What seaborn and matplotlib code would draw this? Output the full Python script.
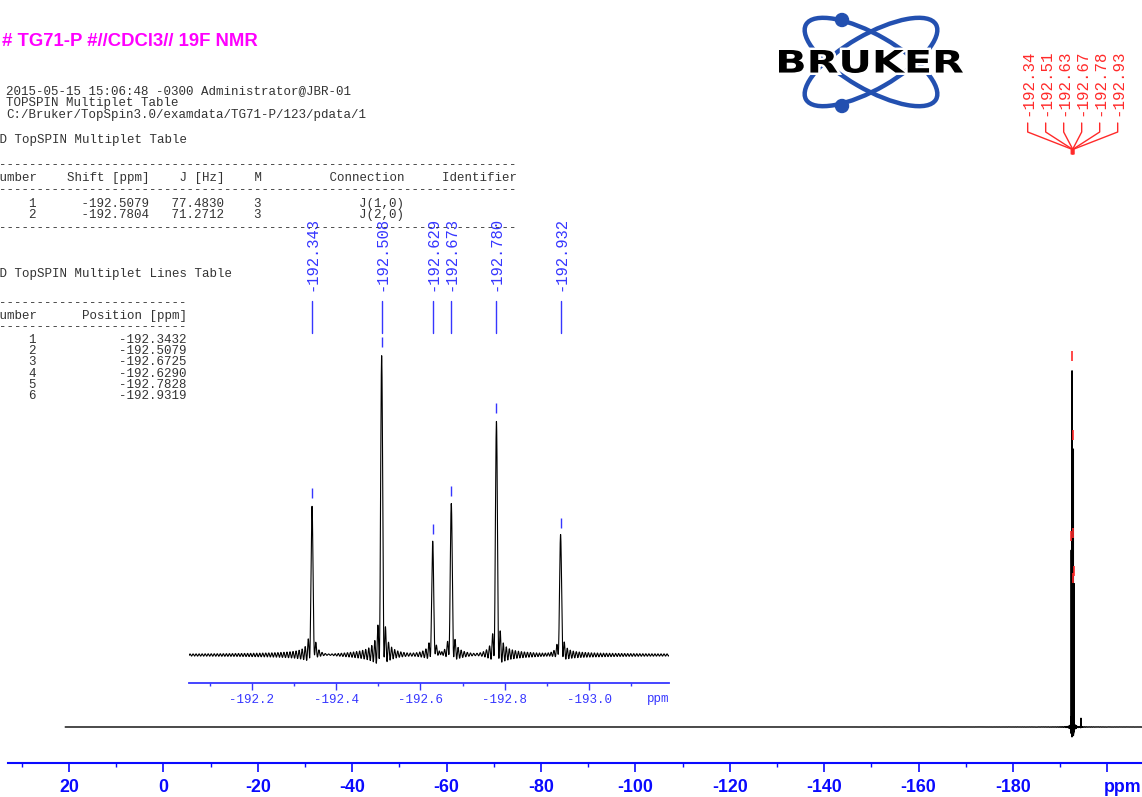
import numpy as np
import pandas as pd
import matplotlib
matplotlib.use("Agg")
import matplotlib.pyplot as plt
import seaborn as sns
from matplotlib.patches import Ellipse, Circle, PathPatch
from matplotlib.textpath import TextPath
from matplotlib.font_manager import FontProperties
from matplotlib.transforms import Affine2D
from matplotlib.ticker import FixedLocator, FixedFormatter, MultipleLocator

# ---------------- spectrum data (19F, CDCl3) ----------------
peak_ppm = [-192.343, -192.508, -192.629, -192.673, -192.780, -192.932]
peak_height = [0.497, 1.000, 0.377, 0.503, 0.780, 0.397]
minor_peak_ppm = [-194.4]
minor_peak_height = [0.025]
spectrum_start_ppm = 20.8

# acquisition parameters used for the line shape
spectrometer_mhz = 376.5
acq_time_s = 0.37
decay_rate = 3.5

# ---------------- axes ticks ----------------
main_ticks = [20, 0, -20, -40, -60, -80, -100, -120, -140, -160, -180, -200]
main_tick_labels = ["20", "0", "-20", "-40", "-60", "-80", "-100", "-120",
                    "-140", "-160", "-180", ""]
inset_ticks = [-192.2, -192.4, -192.6, -192.8, -193.0]
inset_tick_labels = ["-192.2", "-192.4", "-192.6", "-192.8", "-193.0"]

# ---------------- header / report text ----------------
title = "# TG71-P #//CDCl3// 19F NMR"
header_lines = ["2015-05-15 15:06:48 -0300 Administrator@JBR-01",
                "TOPSPIN Multiplet Table",
                "C:/Bruker/TopSpin3.0/examdata/TG71-P/123/pdata/1"]
mult_number = [1, 2]
mult_shift = [-192.5079, -192.7804]
mult_j = [77.4830, 71.2712]
mult_m = [3, 3]
mult_conn = ["J(1,0)", "J(2,0)"]
line_number = [1, 2, 3, 4, 5, 6]
line_position = [-192.3432, -192.5079, -192.6725, -192.6290, -192.7828, -192.9319]


def line_shape(ppm, centers, heights):
    """Absorption spectrum of truncated, exponentially decaying FID lines."""
    out = np.zeros_like(ppm)
    norm = decay_rate / (1.0 - np.exp(-decay_rate * acq_time_s))
    for c, h in zip(centers, heights):
        w = 2 * np.pi * (ppm - c) * spectrometer_mhz
        z = decay_rate - 1j * w
        out += h * norm * ((1.0 - np.exp(-z * acq_time_s)) / z).real
    return out


# ---------------- figure & theme ----------------
sns.set_theme(style="white")
plt.rcParams["font.family"] = ["Liberation Sans", "DejaVu Sans"]

W, H = 1142, 797
fig = plt.figure(figsize=(W / 100, H / 100), dpi=100)


def rect(left, top, right, bottom):
    return [left / W, 1 - bottom / H, (right - left) / W, (bottom - top) / H]


BLUE = "#0a0aff"
LBLUE = "#3636ff"
RED = "#ff2a2a"
MONO = "Liberation Mono"

# ---------------- main spectrum ----------------
ax = fig.add_axes(rect(8, 330, 1142, 763))
ax.patch.set_alpha(0)
coarse = np.linspace(spectrum_start_ppm, -207.5, 2600)
fine = np.linspace(-191.9, -193.4, 16000)
fine2 = np.linspace(-194.25, -194.55, 800)
grid = np.unique(np.concatenate([coarse, fine, fine2]))[::-1]
all_ppm = peak_ppm + minor_peak_ppm
all_h = peak_height + minor_peak_height
main_df = pd.DataFrame({"ppm": grid, "intensity": line_shape(grid, all_ppm, all_h)})
sns.lineplot(data=main_df, x="ppm", y="intensity", ax=ax, color="black",
             lw=1.0, estimator=None, sort=False)

main_px_per_unit = 357.0
ax.set_xlim(32.92, -207.33)
ax.set_ylim(-36 / main_px_per_unit, (433 - 36) / main_px_per_unit)
for s in ["top", "left", "right"]:
    ax.spines[s].set_visible(False)
ax.spines["bottom"].set_color(BLUE)
ax.spines["bottom"].set_linewidth(1.5)
ax.set_yticks([])
ax.xaxis.set_major_locator(FixedLocator(main_ticks))
ax.xaxis.set_major_formatter(FixedFormatter(main_tick_labels))
ax.xaxis.set_minor_locator(MultipleLocator(10))
ax.tick_params(axis="x", which="major", bottom=True, length=6.5, width=1.2,
               color=BLUE, labelcolor=BLUE, labelsize=12.8, pad=5)
ax.tick_params(axis="x", which="minor", bottom=True, length=3, width=1.0, color=BLUE)
for lbl in ax.get_xticklabels():
    lbl.set_fontweight("bold")
    lbl.set_fontfamily("Liberation Sans")
ax.set_xlabel("")
ax.set_ylabel("")
# peak pick markers on the main trace
for p, h in zip(peak_ppm, peak_height):
    ax.vlines(p, h + 9 / main_px_per_unit, h + 19 / main_px_per_unit,
              color=RED, lw=1.2, clip_on=False)

# ---------------- inset expansion ----------------
ins = fig.add_axes(rect(189, 300, 669, 683))
ins.patch.set_alpha(0)
ins_grid = np.linspace(-192.0514, -193.189, 14000)
ins_df = pd.DataFrame({"ppm": ins_grid,
                       "intensity": line_shape(ins_grid, peak_ppm, peak_height)})
sns.lineplot(data=ins_df, x="ppm", y="intensity", ax=ins, color="black",
             lw=0.8, estimator=None, sort=False)
ins_px_per_unit = 300.0
ins.set_xlim(-192.0514, -193.189)
ins.set_ylim(-28 / ins_px_per_unit, (383 - 28) / ins_px_per_unit)
for s in ["top", "left", "right"]:
    ins.spines[s].set_visible(False)
ins.spines["bottom"].set_color(LBLUE)
ins.spines["bottom"].set_linewidth(1.3)
ins.set_yticks([])
ins.xaxis.set_major_locator(FixedLocator(inset_ticks))
ins.xaxis.set_major_formatter(FixedFormatter(inset_tick_labels))
ins.xaxis.set_minor_locator(MultipleLocator(0.1))
ins.tick_params(axis="x", which="major", bottom=True, length=5, width=1.0,
                color=LBLUE, labelcolor=LBLUE, labelsize=9, pad=3)
ins.tick_params(axis="x", which="minor", bottom=True, length=2.2, width=1.0, color=LBLUE)
for lbl in ins.get_xticklabels():
    lbl.set_fontfamily(MONO)
ins.set_xlabel("")
ins.set_ylabel("")
for p, h in zip(peak_ppm, peak_height):
    ins.vlines(p, h + 8 / ins_px_per_unit, h + 18 / ins_px_per_unit,
               color=LBLUE, lw=1.0, clip_on=False)

# ---------------- pixel overlay for text, labels and logo ----------------
pix = fig.add_axes([0, 0, 1, 1])
pix.set_xlim(0, W)
pix.set_ylim(H, 0)
pix.axis("off")

fig.canvas.draw()


def data_to_px(axes, x, y):
    dx, dy = axes.transData.transform((x, y))
    return dx, H - dy


# inset peak labels
for p in peak_ppm:
    px, _ = data_to_px(ins, p, 0)
    pix.text(px, 291, f"{p:.3f}", rotation=90, ha="center", va="bottom",
             family=MONO, fontsize=11.2, color=LBLUE)
    pix.plot([px, px], [301, 333], color=LBLUE, lw=1.0)

# main peak labels with leader lines
peak_px = [data_to_px(ax, p, 0)[0] for p in peak_ppm]
center_px = float(np.mean(peak_px))
n = len(peak_ppm)
for i, (p, ppx) in enumerate(zip(peak_ppm, peak_px)):
    lx = center_px + (i - (n - 1) / 2) * 18
    pix.text(lx, 116, f"{p:.2f}", rotation=90, ha="center", va="bottom",
             family=MONO, fontsize=11.3, color=RED)
    pix.plot([lx, lx, ppx, ppx], [123, 132, 149, 154], color=RED, lw=1.0)

# title and report text
pix.text(2, 45.5, title, ha="left", va="baseline", fontsize=13.3,
         fontweight="bold", color="#ff00ff", family="Liberation Sans")

TXT = "#333333"
x0 = -8.5
ADV = 7.5  # monospace advance at 9 pt, 100 dpi


def mono(y, s):
    body = s.lstrip(" ")
    x = x0 + (len(s) - len(body)) * ADV
    pix.text(x, y, body, ha="left", va="baseline", family=MONO, fontsize=9, color=TXT)


for i, s in enumerate(header_lines):
    mono(94 + 12 * i, "  " + s)
mono(143, "1D TopSPIN Multiplet Table")
mono(168.5, " " + "-" * 69)
mono(181, f"{'Number':>6}{'Shift [ppm]':>15}{'J [Hz]':>10}{'M':>5}"
          f"{'Connection':>19}{'Identifier':>15}")
mono(193.5, " " + "-" * 69)
for i in range(len(mult_number)):
    mono(206.5 + 11 * i, f"{mult_number[i]:>6}{mult_shift[i]:>15.4f}"
                         f"{mult_j[i]:>10.4f}{mult_m[i]:>5}{mult_conn[i]:>19}")
mono(231, " " + "-" * 69)
mono(277, "1D TopSPIN Multiplet Lines Table")
mono(306.5, " " + "-" * 25)
mono(319, f"{'Number':>6}{'Position [ppm]':>20}")
mono(330.5, " " + "-" * 25)
for i in range(len(line_number)):
    mono(343 + 11.2 * i, f"{line_number[i]:>6}{line_position[i]:>20.4f}")

# axis unit labels
pix.text(1141, 787, "ppm", ha="right", va="center", fontsize=12.8,
         fontweight="bold", color=BLUE, family="Liberation Sans")
pix.text(669, 699, "ppm", ha="right", va="center", fontsize=9,
         color=LBLUE, family=MONO)

# logo
LOGO = "#2350b0"
for ang in (30, -30):
    pix.add_patch(Ellipse((871, 62), 150, 54, angle=ang, fill=False,
                          ec=LOGO, lw=3.2, zorder=2))
pix.add_patch(Circle((842, 20), 6.5, color=LOGO, zorder=2))
pix.add_patch(Circle((842, 106), 6.5, color=LOGO, zorder=2))
tp = TextPath((0, 0), "BRUKER", size=10,
              prop=FontProperties(family="DejaVu Sans", weight="bold"))
ext = tp.get_extents()
tr = (Affine2D().translate(-ext.x0, -ext.y0)
      .scale(184 / ext.width, -23 / ext.height).translate(779, 73))
word = tr.transform_path(tp)
pix.add_patch(PathPatch(word, fc="white", ec="white", lw=3.5, zorder=3))
pix.add_patch(PathPatch(word, fc="black", ec="none", zorder=4))

fig.savefig("out.png", dpi=100)
